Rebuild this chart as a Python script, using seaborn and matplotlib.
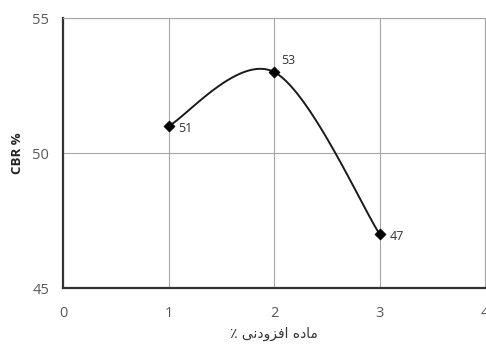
import numpy as np
import pandas as pd
import matplotlib
matplotlib.use("Agg")
import matplotlib.pyplot as plt
import seaborn as sns

# ---- data ----
additive_pct = [1, 2, 3]
cbr_values = [51, 53, 47]
x_ticks = [0, 1, 2, 3, 4]
y_ticks = [45, 50, 55]

# x label "ماده افزودنی ٪" written in Arabic presentation forms, visual order,
# because matplotlib does no RTL shaping itself
x_label = "\u066A " + "\uFBFD\uFEE7\uFEA9\uFEED\uFEB0\uFED3\uFE8D" + " " + "\uFEE9\uFEA9\uFE8E\uFEE3"
y_label = "CBR %"

df = pd.DataFrame({"pct": additive_pct, "cbr": cbr_values})

sns.set_style("white")
plt.rcParams["font.family"] = ["Open Sans", "DejaVu Sans"]

# ---- Excel-style smoothed line (bezier through the points) ----
def smooth_curve(xs, ys, n=60):
    pts = np.column_stack([xs, ys]).astype(float)
    out = []
    for i in range(len(pts) - 1):
        p_prev = pts[max(i - 1, 0)]
        p0 = pts[i]
        p1 = pts[i + 1]
        p_next = pts[min(i + 2, len(pts) - 1)]
        c1 = p0 + (p1 - p_prev) / 6
        c2 = p1 - (p_next - p0) / 6
        t = np.linspace(0, 1, n)[:, None]
        seg = ((1 - t) ** 3) * p0 + 3 * ((1 - t) ** 2) * t * c1 + 3 * (1 - t) * t ** 2 * c2 + t ** 3 * p1
        out.append(seg)
    curve = np.vstack(out)
    return curve[:, 0], curve[:, 1]

cx, cy = smooth_curve(df["pct"], df["cbr"])

fig = plt.figure(figsize=(4.86, 3.47), dpi=100)
ax = fig.add_axes([0.13, 0.17, 0.868, 0.778])

ax.plot(cx, cy, color="#1a1a1a", lw=1.4, zorder=3)
sns.scatterplot(data=df, x="pct", y="cbr", marker="D", s=32, color="black",
                edgecolor="black", ax=ax, zorder=4, legend=False)

# label offsets (points): the peak label sits above-right
offsets = [(7, -4), (5, 6), (7, -4)]
for xv, yv, off in zip(additive_pct, cbr_values, offsets):
    ax.annotate(str(yv), (xv, yv), xytext=off, textcoords="offset points",
                fontsize=9, color="#333333")

ax.set_xlim(0, 4)
ax.set_ylim(45, 55)
ax.set_xticks(x_ticks)
ax.set_yticks(y_ticks)
ax.grid(True, color="#a6a6a6", lw=0.8)
ax.set_axisbelow(True)

for side in ["top", "right"]:
    ax.spines[side].set_color("#a6a6a6")
    ax.spines[side].set_linewidth(0.8)
for side in ["left", "bottom"]:
    ax.spines[side].set_color("#333333")
    ax.spines[side].set_linewidth(1.6)

ax.tick_params(axis="both", length=0, labelsize=10.5, colors="#595959")
ax.tick_params(axis="x", pad=13)
ax.tick_params(axis="y", pad=10)

ax.set_xlabel(x_label, fontsize=10, color="#333333", labelpad=4,
              family=["DejaVu Sans"])
ax.set_ylabel(y_label, fontsize=9.5, fontweight="bold", color="#222222", labelpad=6)

fig.savefig("out.png", dpi=100)
